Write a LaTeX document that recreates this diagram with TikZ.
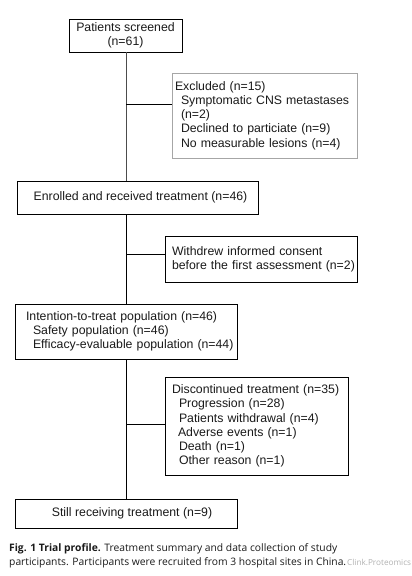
\documentclass[tikz,border=0pt]{standalone}
\usepackage{fontspec}
\setmainfont{Liberation Sans}
\newfontfamily\capfont{Open Sans}
\definecolor{txt}{HTML}{1A1A1A}
\begin{document}
\begin{tikzpicture}[x=1pt,y=-1pt,
  every node/.style={text=txt, font=\fontsize{12.3}{14.2}\selectfont},
  box/.style={draw=black, line width=0.8pt, inner sep=0pt, align=center},
  lbox/.style={draw=black, line width=0.8pt, inner sep=0pt, align=left},
  conn/.style={draw=black, line width=0.8pt},
  captext/.style={font=\capfont\fontsize{10.3}{12}\selectfont, anchor=base west, inner sep=0pt, text=txt}
]
\useasboundingbox (0,0) rectangle (412,576);
\fill[white] (0,0) rectangle (412,576);

\node[box, minimum width=113pt, minimum height=33pt] (screen) at (125.5,35.5) {Patients screened\\(n=61)};

\node[lbox, draw=gray!70, minimum width=185pt, minimum height=85pt, text width=185pt] (excl) at (264.5,115.5)
 {\hspace*{3pt}Excluded (n=15)\\
  \hspace*{9pt}Symptomatic CNS metastases\\
  \hspace*{9pt}(n=2)\\
  \hspace*{9pt}Declined to particiate (n=9)\\
  \hspace*{9pt}No measurable lesions (n=4)};

\node[box, minimum width=241pt, minimum height=33pt] (enrol) at (137.5,197.5) {\hspace*{6pt}Enrolled and received treatment (n=46)};

\node[lbox, minimum width=192pt, minimum height=46pt, text width=192pt] (withd) at (261,259)
 {\hspace*{7pt}Withdrew informed consent\\
  \hspace*{7pt}before the first assessment (n=2)};

\node[lbox, minimum width=222pt, minimum height=55pt, text width=222pt] (itt) at (126,331.5)
 {\hspace*{11pt}Intention-to-treat population (n=46)\\
  \hspace*{18pt}Safety population (n=46)\\
  \hspace*{18pt}Efficacy-evaluable population (n=44)};

\node[lbox, minimum width=183pt, minimum height=98pt, text width=183pt] (disc) at (256.5,426)
 {\hspace*{7pt}Discontinued treatment (n=35)\\
  \hspace*{14pt}Progression (n=28)\\
  \hspace*{14pt}Patients withdrawal (n=4)\\
  \hspace*{13pt}Adverse events (n=1)\\
  \hspace*{14pt}Death (n=1)\\
  \hspace*{14pt}Other reason (n=1)};

\node[box, minimum width=222pt, minimum height=29pt] (still) at (126,513.5) {\hspace*{12pt}Still receiving treatment (n=9)};

\coordinate (j1) at (126,104);
\coordinate (j2) at (126,254);
\coordinate (j3) at (126,424);

\draw[conn, draw=black!70] (screen.south -| j1) -- (j1 |- enrol.north);
\draw[conn] (j1) -- (j1 -| excl.west);
\draw[conn] (j1 |- enrol.south) -- (j1 |- itt.north);
\draw[conn] (j2) -- (j2 -| withd.west);
\draw[conn] (j1 |- itt.south) -- (j1 |- still.north);
\draw[conn] (j3) -- (j3 -| disc.west);

\node[captext] (cap1) at (9,551) {\textbf{Fig. 1 Trial profile.} Treatment summary and data collection of study};
\node[captext] (cap2) at (9,565) {participants. Participants were recruited from 3 hospital sites in China.};
\node[captext, font=\capfont\fontsize{8.2}{10}\selectfont, text=gray!60] (wm) at (347,565) {Clink.Proteomics};
\end{tikzpicture}
\end{document}
